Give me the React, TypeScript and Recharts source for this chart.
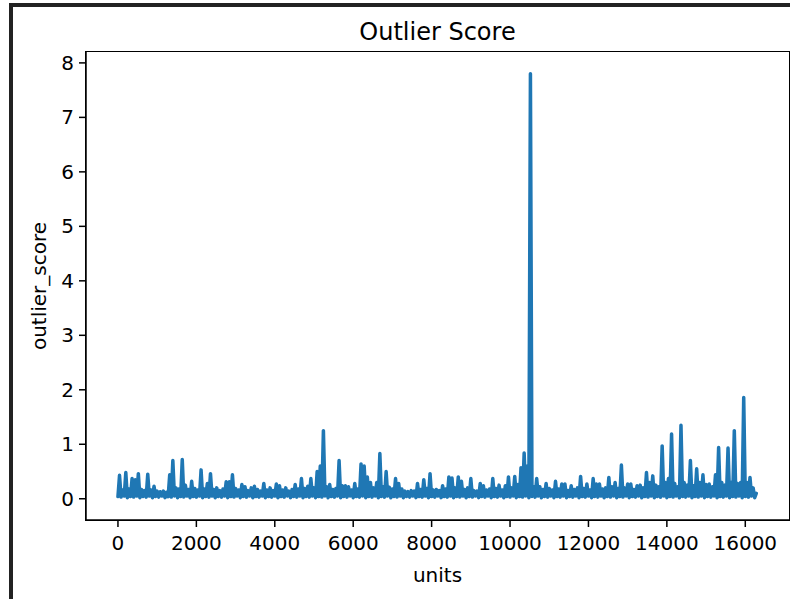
import { LineChart, Line, XAxis, YAxis } from 'recharts'

// outlier_score, one reading every 40 units (0 .. 16280)
const SAMPLE_STEP = 40
const scores = [
  0.04, 0.43, 0.03, 0.16, 0.05, 0.48, 0.02, 0.18, 0.04, 0.37, 0.03, 0.35, 0.05, 0.46, 0.02, 0.17, 0.04, 0.15, 0.03, 0.45,
  0.05, 0.16, 0.02, 0.23, 0.04, 0.14, 0.03, 0.13, 0.05, 0.14, 0.02, 0.12, 0.04, 0.44, 0.03, 0.7, 0.05, 0.2, 0.02, 0.18,
  0.04, 0.72, 0.03, 0.25, 0.05, 0.17, 0.02, 0.32, 0.04, 0.19, 0.03, 0.16, 0.05, 0.53, 0.02, 0.18, 0.04, 0.28, 0.03, 0.46,
  0.05, 0.17, 0.02, 0.2, 0.04, 0.15, 0.03, 0.18, 0.05, 0.31, 0.02, 0.31, 0.04, 0.44, 0.03, 0.19, 0.05, 0.16, 0.02, 0.26,
  0.04, 0.22, 0.03, 0.15, 0.05, 0.2, 0.02, 0.23, 0.04, 0.17, 0.03, 0.14, 0.05, 0.28, 0.02, 0.16, 0.04, 0.2, 0.03, 0.15,
  0.05, 0.27, 0.02, 0.24, 0.04, 0.16, 0.03, 0.2, 0.05, 0.14, 0.02, 0.17, 0.04, 0.26, 0.03, 0.18, 0.05, 0.37, 0.02, 0.19,
  0.04, 0.23, 0.03, 0.37, 0.05, 0.2, 0.02, 0.5, 0.04, 0.6, 0.03, 1.25, 0.05, 0.22, 0.02, 0.26, 0.04, 0.17, 0.03, 0.19,
  0.05, 0.7, 0.02, 0.24, 0.04, 0.24, 0.03, 0.22, 0.05, 0.16, 0.02, 0.28, 0.04, 0.18, 0.03, 0.64, 0.05, 0.6, 0.02, 0.4,
  0.04, 0.3, 0.03, 0.2, 0.05, 0.3, 0.02, 0.83, 0.04, 0.22, 0.03, 0.5, 0.05, 0.21, 0.02, 0.18, 0.04, 0.37, 0.03, 0.28,
  0.05, 0.18, 0.02, 0.14, 0.04, 0.13, 0.03, 0.15, 0.05, 0.14, 0.02, 0.28, 0.04, 0.17, 0.03, 0.35, 0.05, 0.19, 0.02, 0.46,
  0.04, 0.16, 0.03, 0.17, 0.05, 0.15, 0.02, 0.24, 0.04, 0.18, 0.03, 0.4, 0.05, 0.38, 0.02, 0.2, 0.04, 0.4, 0.03, 0.32,
  0.05, 0.17, 0.02, 0.2, 0.04, 0.37, 0.03, 0.15, 0.05, 0.14, 0.02, 0.28, 0.04, 0.24, 0.03, 0.16, 0.05, 0.18, 0.02, 0.37,
  0.04, 0.19, 0.03, 0.25, 0.05, 0.16, 0.02, 0.24, 0.04, 0.4, 0.03, 0.2, 0.05, 0.41, 0.02, 0.26, 0.04, 0.57, 0.03, 0.84,
  0.05, 0.6, 0.02, 7.8, 0.04, 0.22, 0.03, 0.37, 0.05, 0.22, 0.02, 0.17, 0.04, 0.28, 0.03, 0.19, 0.05, 0.16, 0.02, 0.32,
  0.04, 0.18, 0.03, 0.27, 0.05, 0.27, 0.02, 0.15, 0.04, 0.24, 0.03, 0.17, 0.05, 0.2, 0.02, 0.41, 0.04, 0.19, 0.03, 0.27,
  0.05, 0.16, 0.02, 0.37, 0.04, 0.27, 0.03, 0.27, 0.05, 0.18, 0.02, 0.2, 0.04, 0.39, 0.03, 0.22, 0.05, 0.3, 0.02, 0.19,
  0.04, 0.62, 0.03, 0.2, 0.05, 0.27, 0.02, 0.27, 0.04, 0.17, 0.03, 0.24, 0.05, 0.25, 0.02, 0.2, 0.04, 0.48, 0.03, 0.3,
  0.05, 0.42, 0.02, 0.25, 0.04, 0.22, 0.03, 0.97, 0.05, 0.3, 0.02, 0.37, 0.04, 1.19, 0.03, 0.28, 0.05, 0.22, 0.02, 1.35,
  0.04, 0.3, 0.03, 0.25, 0.05, 0.7, 0.02, 0.24, 0.04, 0.55, 0.03, 0.3, 0.05, 0.44, 0.02, 0.26, 0.04, 0.27, 0.03, 0.22,
  0.05, 0.44, 0.02, 0.94, 0.04, 0.3, 0.03, 0.25, 0.05, 0.93, 0.02, 0.3, 0.04, 1.25, 0.03, 0.28, 0.05, 0.3, 0.02, 1.86,
  0.04, 0.3, 0.03, 0.39, 0.05, 0.2, 0.02, 0.1,
]

const xTicks = [0, 2000, 4000, 6000, 8000, 10000, 12000, 14000, 16000]
const yTicks = [0, 1, 2, 3, 4, 5, 6, 7, 8]

const data = scores.map((s, i) => ({ unit: i * SAMPLE_STEP, outlier_score: s }))

const FONT = '"DejaVu Sans", sans-serif'
const tickStyle = { fontSize: 20, fontFamily: FONT, fill: '#000' }

export default function App() {
  return (
    <div style={{ position: 'absolute', left: 0, top: 0, width: 790, height: 599, background: '#fff', overflow: 'hidden' }}>
      {/* outer screenshot frame */}
      <div style={{ position: 'absolute', left: 9, top: 3, right: 0, height: 4, background: '#222' }} />
      <div style={{ position: 'absolute', left: 9, top: 3, width: 4, bottom: 0, background: '#222' }} />
      <div
        style={{
          position: 'absolute', left: 86, top: 20, width: 703, textAlign: 'center',
          fontFamily: FONT, fontSize: 24, lineHeight: '24px', color: '#000',
        }}
      >
        Outlier Score
      </div>
      <LineChart width={790} height={599} data={data} margin={{ top: 52, right: 1, bottom: 0, left: 0 }}>
        <XAxis
          dataKey="unit"
          type="number"
          domain={[-815, 17115]}
          ticks={xTicks}
          allowDataOverflow
          height={79}
          tickSize={7}
          tickMargin={9}
          tick={tickStyle}
          axisLine={{ stroke: '#000', strokeWidth: 1.5 }}
          tickLine={{ stroke: '#000', strokeWidth: 1.5 }}
          label={{ value: 'units', position: 'insideBottom', offset: 17, style: { ...tickStyle, textAnchor: 'middle' } }}
        />
        <YAxis
          type="number"
          domain={[-0.39, 8.2]}
          ticks={yTicks}
          allowDataOverflow
          width={86}
          tickSize={7}
          tickMargin={5}
          tick={tickStyle}
          axisLine={{ stroke: '#000', strokeWidth: 1.5 }}
          tickLine={{ stroke: '#000', strokeWidth: 1.5 }}
          label={{ value: 'outlier_score', angle: -90, position: 'insideLeft', offset: 39, style: { ...tickStyle, textAnchor: 'middle' } }}
        />
        <Line
          type="linear"
          dataKey="outlier_score"
          stroke="#1f77b4"
          strokeWidth={3.5}
          strokeLinejoin="round"
          strokeLinecap="round"
          dot={false}
          activeDot={false}
          isAnimationActive={false}
        />
      </LineChart>
      {/* axes box (top and right spines) */}
      <div
        style={{
          position: 'absolute', left: 85, top: 51, width: 703, height: 468,
          border: '1.5px solid #000', boxSizing: 'content-box', pointerEvents: 'none',
        }}
      />
    </div>
  )
}
